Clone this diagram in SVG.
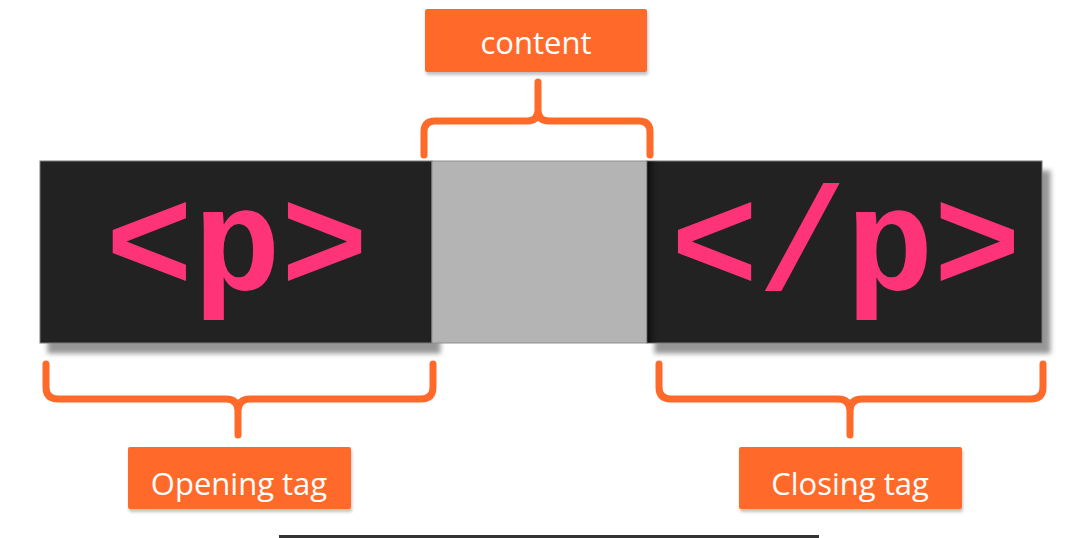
<svg xmlns="http://www.w3.org/2000/svg" width="1068" height="538" viewBox="0 0 1068 538">
  <defs>
    <filter id="boxShadow" x="-10%" y="-10%" width="130%" height="140%">
      <feDropShadow dx="8" dy="10" stdDeviation="2.5" flood-color="#8a8a8a" flood-opacity="0.9"/>
    </filter>
    <filter id="labelShadow" x="-10%" y="-10%" width="120%" height="140%">
      <feDropShadow dx="1" dy="3" stdDeviation="1.5" flood-color="#999" flood-opacity="0.6"/>
    </filter>
    <linearGradient id="innerEdge" x1="0" y1="0" x2="1" y2="0">
      <stop offset="0" stop-color="#0c0c0c"/>
      <stop offset="1" stop-color="#222220" stop-opacity="0"/>
    </linearGradient>
  </defs>
  <style>
    .tag { fill: #232220; stroke: #7a7a7a; stroke-width: 1; }
    .code { font-family: "Liberation Mono", "Courier New", monospace; font-weight: bold; fill: #ff3478; text-anchor: middle; }
    .label { fill: #ff6a2b; }
    .labelText { font-family: "Open Sans", "Liberation Sans", sans-serif; fill: #ffffff; text-anchor: middle; }
    .brace { fill: none; stroke: #ff6a2b; stroke-width: 7; stroke-linecap: round; stroke-linejoin: round; }
  </style>
  <rect width="1068" height="538" fill="#ffffff"/>

  <!-- the tag strip -->
  <g id="opening-tag">
    <rect class="tag" x="40" y="161" width="392" height="182" filter="url(#boxShadow)"/>
    <text class="code" x="237" y="290" font-size="146">&lt;p&gt;</text>
  </g>
  <g id="content-slot">
    <rect x="432" y="161" width="215" height="182" fill="#b4b4b4" stroke="#8f8f8f" stroke-width="1"/>
  </g>
  <g id="closing-tag">
    <rect class="tag" x="647" y="161" width="395" height="182" filter="url(#boxShadow)"/>
    <rect x="647.5" y="161.5" width="12" height="181" fill="url(#innerEdge)"/>
    <text class="code" x="846" y="290" font-size="146">&lt;/p&gt;</text>
  </g>

  <!-- labels -->
  <g id="content-label">
    <rect class="label" x="425" y="9" width="222" height="63" rx="2" filter="url(#labelShadow)"/>
    <text class="labelText" x="536" y="54" font-size="31">content</text>
  </g>
  <g id="opening-label">
    <rect class="label" x="128" y="447" width="223" height="62" rx="2" filter="url(#labelShadow)"/>
    <text class="labelText" x="239" y="495" font-size="31">Opening tag</text>
  </g>
  <g id="closing-label">
    <rect class="label" x="739" y="447" width="223" height="62" rx="2" filter="url(#labelShadow)"/>
    <text class="labelText" x="850" y="495" font-size="31">Closing tag</text>
  </g>

  <!-- braces linking labels to the strip -->
  <g id="connectors">
    <path class="brace" d="M424,155 V132 Q424,121 435,121 H527 Q538,121 538,110 V82 M538,110 Q538,121 549,121 H639 Q650,121 650,132 V155"/>
    <path class="brace" d="M46,364 V387 Q46,399 58,399 H226 Q238,399 238,411 V435 M238,411 Q238,399 250,399 H421 Q433,399 433,387 V364"/>
    <path class="brace" d="M659,364 V387 Q659,399 671,399 H838 Q850,399 850,411 V435 M850,411 Q850,399 862,399 H1031 Q1043,399 1043,387 V364"/>
  </g>

  <!-- bottom rule -->
  <rect x="279" y="535" width="540" height="3" fill="#333333"/>
</svg>
